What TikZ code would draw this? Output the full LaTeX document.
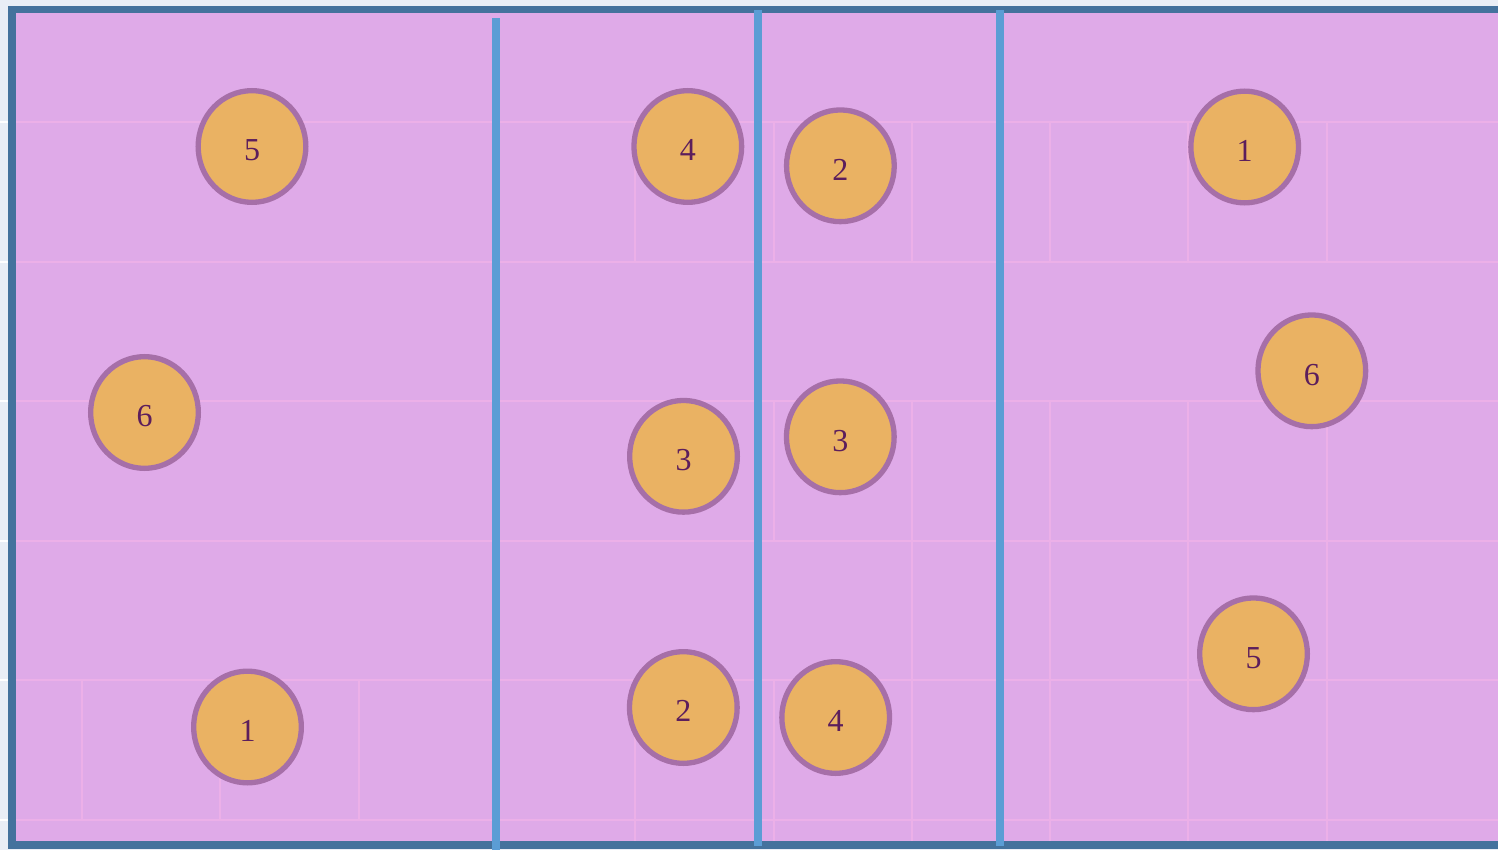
\documentclass[tikz,border=0pt]{standalone}
\usepackage{fontspec}
\setmainfont{Liberation Serif}
\usepackage{tikz}
\usetikzlibrary{shapes.geometric}
\definecolor{pagebg}   {RGB}{233,238,246}
\definecolor{courtfill}{RGB}{223,170,232}
\definecolor{courtedge}{RGB}{68,114,157}
\definecolor{tileline} {RGB}{236,176,232}
\definecolor{netblue}  {RGB}{91,157,213}
\definecolor{playfill} {RGB}{234,178,99}
\definecolor{playedge} {RGB}{166,111,168}
\definecolor{playtext} {RGB}{92,30,92}
\tikzset{
  player/.style={ellipse, draw=playedge, fill=playfill, line width=5.3pt,
                 minimum width=107.7pt, minimum height=111.7pt, inner sep=0pt,
                 text=playtext, font=\fontsize{32}{36}\selectfont,
                 text height=28.6pt, text depth=0pt},
  tileln/.style={draw=tileline, line width=2pt},
  netln/.style ={draw=netblue, line width=8pt},
}

\begin{document}
\begin{tikzpicture}[x=1pt,y=-1pt]
  \useasboundingbox (0,0) rectangle (1498,850);
  \clip (0,0) rectangle (1498,850);
  \fill[pagebg] (0,0) rectangle (1498,850);
  %% court floor
  \fill[courtfill] (8,6) rectangle (1530,849);
  \foreach \y in {122,261.6,401.2,540.8,680.4,820}{
    \draw[white, line width=2pt] (0,\y) -- (8,\y);
    \draw[tileln] (15,\y) -- (1498,\y);
  }
  \foreach \x in {82,220.3,358.6}
    \draw[tileln] (\x,680.4) -- (\x,820);
  \foreach \x in {635.2,773.5,911.8,1050.1,1188.4,1326.7}
    \draw[tileln] (\x,122) -- (\x,261.6);
  \foreach \x in {773.5,911.8,1050.1,1188.4,1326.7}
    \draw[tileln] (\x,401.2) -- (\x,540.8);
  \foreach \x in {911.8,1050.1,1188.4,1326.7}
    \draw[tileln] (\x,540.8) -- (\x,849);
  \foreach \x in {635.2,773.5}
    \draw[tileln] (\x,680.4) -- (\x,849);
  %% frame and lines
  \draw[courtedge, line width=7.5pt] (11.8,9.6) rectangle (1530,845);
  \draw[netln] (495.5,18.5) -- (495.5,850);
  \draw[netln] (758.2,10) -- (758.2,845.7);
  \draw[netln] (1000.3,10) -- (1000.3,845.7);
  %% players
  \node[player] (l5) at (252,146.5) {5};
  \node[player] (l6) at (144.5,412.5) {6};
  \node[player] (l1) at (247.5,727) {1};
  \node[player] (m4) at (687.8,146.5) {4};
  \node[player] (m3) at (683.5,456.3) {3};
  \node[player] (m2) at (683.3,707.5) {2};
  \node[player] (n2) at (840.4,165.8) {2};
  \node[player] (n3) at (840.3,436.8) {3};
  \node[player] (n4) at (835.7,717.5) {4};
  \node[player] (r1) at (1244.7,147) {1};
  \node[player] (r6) at (1311.8,370.8) {6};
  \node[player] (r5) at (1253.5,653.8) {5};
\end{tikzpicture}
\end{document}
